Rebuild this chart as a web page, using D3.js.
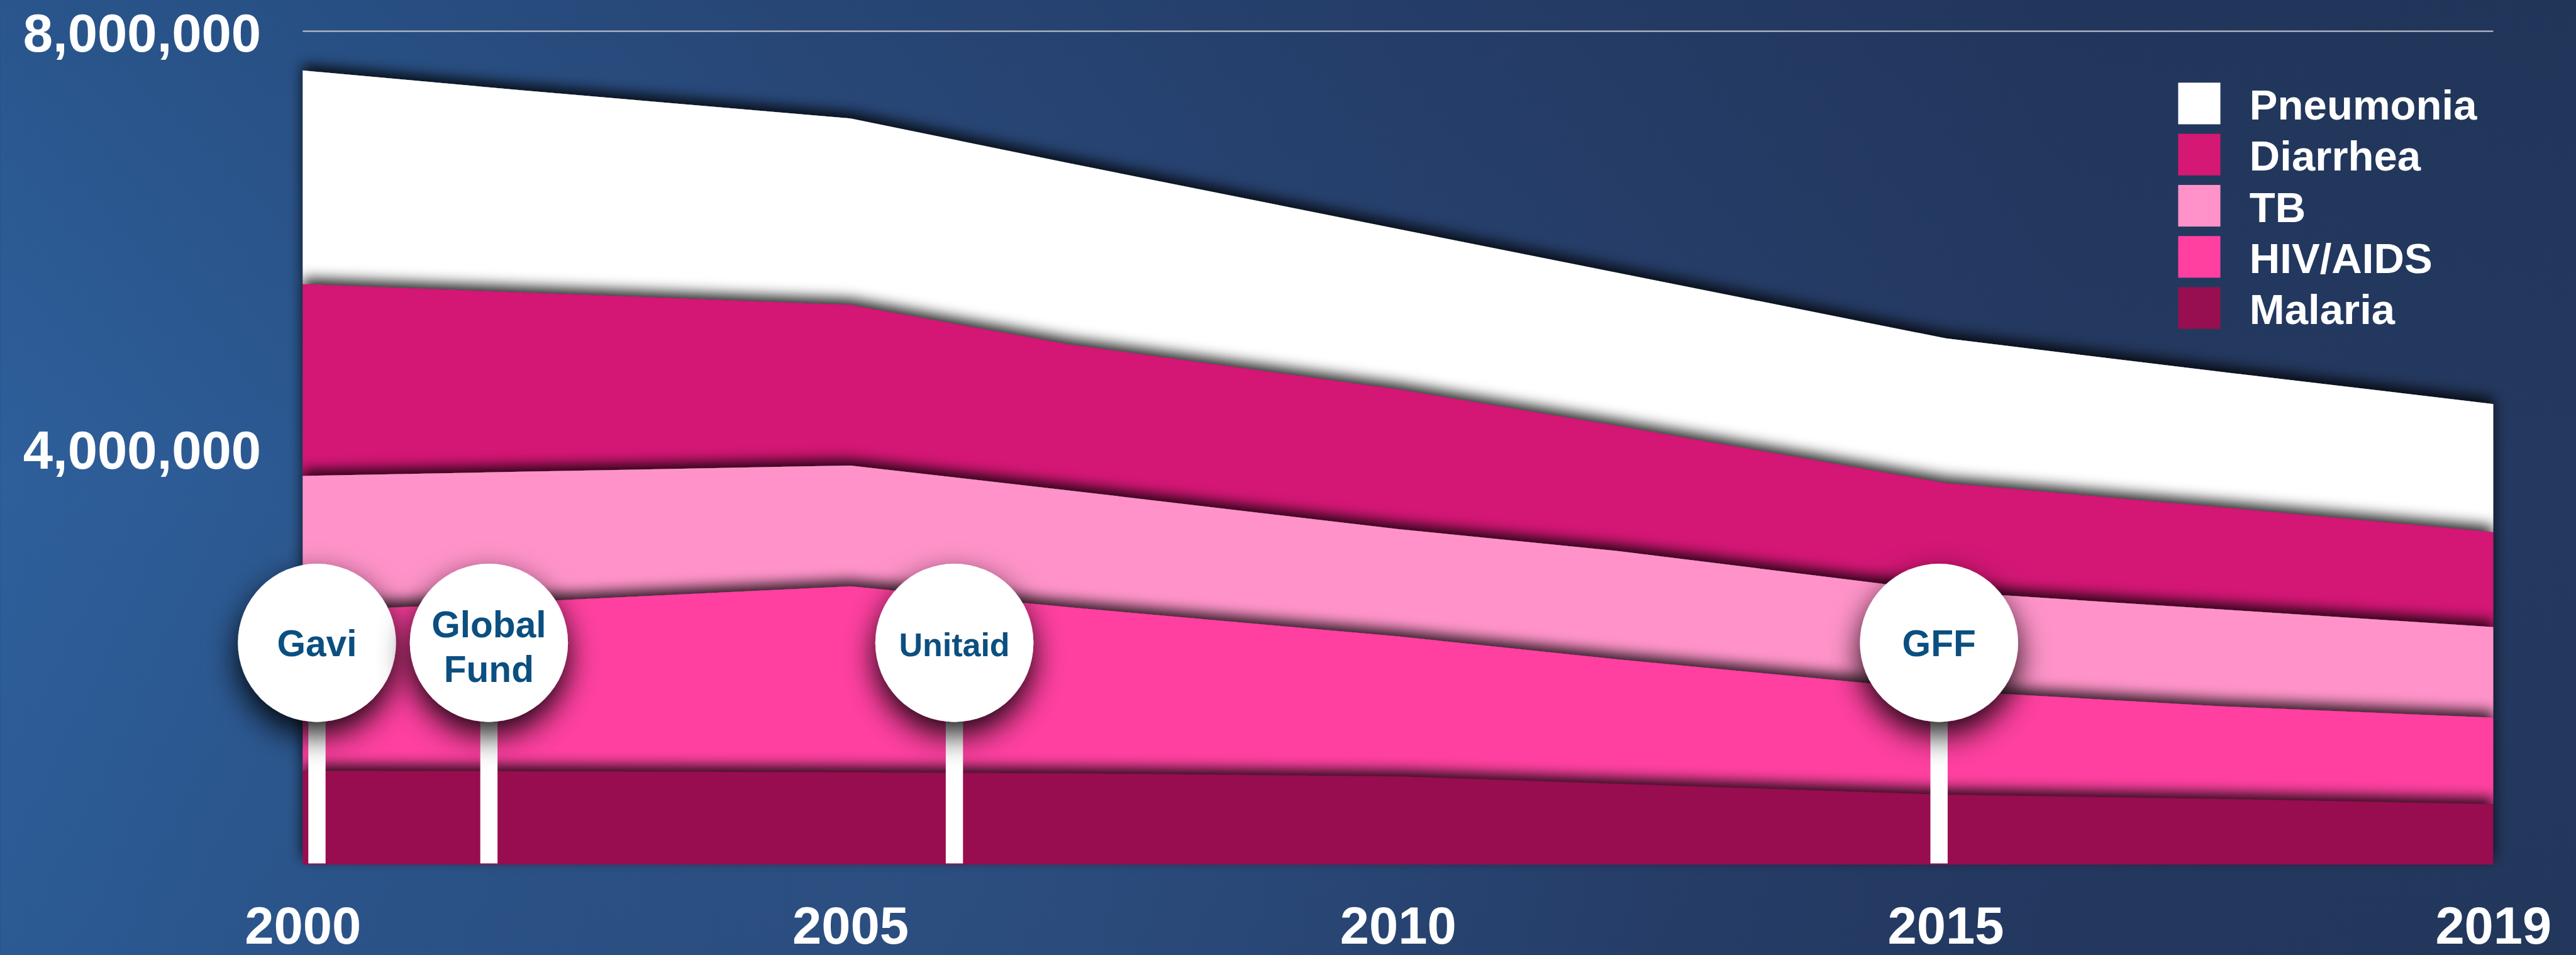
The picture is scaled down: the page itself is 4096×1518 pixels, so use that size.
<!DOCTYPE html>
<html>
<head>
<meta charset="utf-8">
<script src="https://cdn.jsdelivr.net/npm/d3@7"></script>
<style>
html,body{margin:0;padding:0;overflow:hidden;background:#263f6a;}
svg{display:block;}
</style>
</head>
<body>
<script>
// ---------- DATA (child deaths per year) ----------
const years      = [2000, 2002, 2005, 2007, 2010, 2012, 2015, 2017, 2019];
const tickYears  = [2000, 2005, 2010, 2015, 2019];
const yTicks     = [4000000, 8000000];
const seriesKeys = ["Malaria", "HIV/AIDS", "TB", "Diarrhea", "Pneumonia"]; // stack order bottom -> top
const legendKeys = ["Pneumonia", "Diarrhea", "TB", "HIV/AIDS", "Malaria"];
const malaria    = [900000, 895000, 885000, 875000, 845000, 775000, 670000, 630000, 580000];
const hivAids    = [1530000, 1625000, 1785000, 1595000, 1345000, 1195000, 1000000, 890000, 830000];
const tb         = [1300000, 1250000, 1160000, 1120000, 1030000, 1040000, 950000, 930000, 870000];
const diarrhea   = [1840000, 1720000, 1540000, 1400000, 1340000, 1200000, 1040000, 980000, 910000];
const pneumonia  = [2050000, 1940000, 1790000, 1740000, 1540000, 1470000, 1390000, 1300000, 1230000];
const markerNames = ["Gavi", "Global Fund", "Unitaid", "GFF"];
const markerYears = [2000.13, 2001.7, 2005.95, 2014.94];

// ---------- STYLE / LAYOUT ----------
const W = 4333, H = 1606;               // reference coordinate space, scaled by viewBox
const colors = {"Pneumonia":"#ffffff","Diarrhea":"#d41874","TB":"#ff93c9","HIV/AIDS":"#ff40a0","Malaria":"#970f50"};
const plotLeft = 509, plotRight = 4194, plotTop = 52, plotBottom = 1454;
const markerCY = 1081, markerR = 133, stemW = 29;
const markerFont = {"Gavi":62, "Global Fund":62, "Unitaid":55, "GFF":62};
const FONT = "'Liberation Sans', Arial, Helvetica, sans-serif";

const table = years.map((yr, i) => ({
  year: yr,
  "Malaria": malaria[i], "HIV/AIDS": hivAids[i], "TB": tb[i],
  "Diarrhea": diarrhea[i], "Pneumonia": pneumonia[i]
}));

const svg = d3.select("body").append("svg")
  .attr("width", 4096).attr("height", 1518)
  .attr("viewBox", `0 0 ${W} ${H}`);

const defs = svg.append("defs");
const bg = defs.append("linearGradient").attr("id","bg").attr("x1","0").attr("x2","1").attr("y1","0").attr("y2","0");
[[0,"#2e5f9b"],[0.1,"#2c5992"],[0.3,"#2b4d81"],[0.55,"#284270"],[0.8,"#253a62"],[1,"#24395f"]]
  .forEach(([o,c]) => bg.append("stop").attr("offset", o).attr("stop-color", c));
const vg = defs.append("linearGradient").attr("id","bgv").attr("x1","0").attr("x2","0").attr("y1","0").attr("y2","1");
vg.append("stop").attr("offset",0).attr("stop-color","#10203a").attr("stop-opacity",0.15);
vg.append("stop").attr("offset",0.5).attr("stop-color","#10203a").attr("stop-opacity",0);
vg.append("stop").attr("offset",1).attr("stop-color","#10203a").attr("stop-opacity",0.08);
const rg = defs.append("radialGradient").attr("id","bgr")
  .attr("gradientUnits","userSpaceOnUse").attr("cx",1500).attr("cy",1500).attr("r",1300);
rg.append("stop").attr("offset",0).attr("stop-color","#30588c").attr("stop-opacity",0.55);
rg.append("stop").attr("offset",1).attr("stop-color","#30588c").attr("stop-opacity",0);

const fa = defs.append("filter").attr("id","areaShadow")
  .attr("filterUnits","userSpaceOnUse").attr("x",0).attr("y",0).attr("width",W).attr("height",H);
fa.append("feDropShadow").attr("dx",0).attr("dy",-10).attr("stdDeviation",11)
  .attr("flood-color","#000").attr("flood-opacity",0.85);
const fc = defs.append("filter").attr("id","circleShadow")
  .attr("x","-60%").attr("y","-60%").attr("width","220%").attr("height","220%");
fc.append("feDropShadow").attr("dx",0).attr("dy",22).attr("stdDeviation",26)
  .attr("flood-color","#000").attr("flood-opacity",0.92);

svg.append("rect").attr("width",W).attr("height",H).attr("fill","url(#bg)");
svg.append("rect").attr("width",W).attr("height",H).attr("fill","url(#bgr)");
svg.append("rect").attr("width",W).attr("height",H).attr("fill","url(#bgv)");

// ---------- SCALES ----------
const x = d3.scaleLinear()
  .domain(tickYears)
  .range(tickYears.map((d, i) => plotLeft + i * (plotRight - plotLeft) / (tickYears.length - 1)));
const y = d3.scaleLinear().domain([0, 8000000]).range([plotBottom, plotTop]);

// ---------- GRID + Y AXIS ----------
const yAxis = svg.append("g").attr("transform", `translate(${plotLeft},0)`)
  .call(d3.axisLeft(y).tickValues(yTicks).tickSize(-(plotRight - plotLeft)).tickPadding(70)
        .tickFormat(d3.format(",")));
yAxis.select(".domain").remove();
yAxis.selectAll("line").attr("stroke","#b4bac6").attr("stroke-width",2.5);
yAxis.selectAll("text").attr("fill","#fff").attr("font-family",FONT)
  .attr("font-weight","bold").attr("font-size",90).attr("dy","0.385em");

// ---------- STACKED AREAS ----------
const stack = d3.stack().keys(seriesKeys);
const layers = stack(table);
const area = d3.area()
  .x(d => x(d.data.year))
  .y0(d => y(d[0]))
  .y1(d => y(d[1]));

svg.append("g").selectAll("path")
  .data(layers.slice().reverse())
  .join("path")
  .attr("d", area)
  .attr("fill", d => colors[d.key])
  .attr("filter","url(#areaShadow)");

// ---------- X AXIS LABELS ----------
const xAxis = svg.append("g").attr("transform", `translate(0,${plotBottom})`)
  .call(d3.axisBottom(x).tickValues(tickYears).tickSize(0).tickPadding(71)
        .tickFormat(d3.format("d")));
xAxis.select(".domain").remove();
xAxis.selectAll("text").attr("fill","#fff").attr("font-family",FONT)
  .attr("font-weight","bold").attr("font-size",88);

// ---------- MARKERS ----------
const markers = markerNames.map((n, i) => ({name: n, year: markerYears[i]}));
const mg = svg.append("g");
mg.selectAll("rect.stem").data(markers).join("rect")
  .attr("class","stem")
  .attr("x", d => x(d.year) - stemW / 2)
  .attr("y", markerCY)
  .attr("width", stemW)
  .attr("height", plotBottom - 2 - markerCY)
  .attr("fill","#fff");
mg.selectAll("circle").data(markers).join("circle")
  .attr("cx", d => x(d.year)).attr("cy", markerCY).attr("r", markerR)
  .attr("fill","#fff").attr("filter","url(#circleShadow)");
const mt = mg.selectAll("text").data(markers).join("text")
  .attr("text-anchor","middle")
  .attr("font-family",FONT).attr("font-weight","bold")
  .attr("font-size", d => markerFont[d.name])
  .attr("fill","#0b4f80");
mt.each(function(d) {
  const t = d3.select(this);
  const words = d.name.split(" ");
  if (words.length === 1) {
    t.append("tspan").attr("x", x(d.year)).attr("y", markerCY + 23).text(d.name);
  } else {
    t.append("tspan").attr("x", x(d.year)).attr("y", markerCY - 9).text(words[0]);
    t.append("tspan").attr("x", x(d.year)).attr("y", markerCY + 66).text(words[1]);
  }
});

// ---------- LEGEND ----------
const lg = svg.append("g").attr("transform","translate(3664,139)");
const li = lg.selectAll("g").data(legendKeys).join("g")
  .attr("transform", (d, i) => `translate(0,${i * 86})`);
li.append("rect").attr("width",71).attr("height",70).attr("fill", d => colors[d]);
li.append("text").attr("x",120).attr("y",62).text(d => d)
  .attr("fill","#fff").attr("font-family",FONT).attr("font-weight","bold").attr("font-size",71);
</script>
</body>
</html>
